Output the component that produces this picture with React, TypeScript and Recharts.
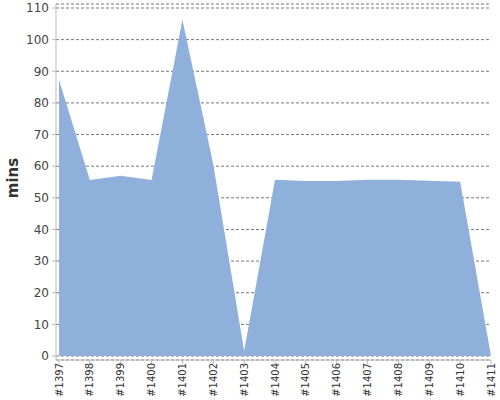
import React from "react";
import { AreaChart, Area, XAxis, YAxis, CartesianGrid, Label } from "recharts";

const builds = ["#1397", "#1398", "#1399", "#1400", "#1401", "#1402", "#1403", "#1404", "#1405", "#1406", "#1407", "#1408", "#1409", "#1410", "#1411"];
const minutes = [87.3, 55.6, 57, 55.6, 106.3, 60.5, 1.6, 55.7, 55.3, 55.3, 55.7, 55.7, 55.4, 55.1, 0];
const yTicks = [0, 10, 20, 30, 40, 50, 60, 70, 80, 90, 100, 110];

const data = builds.map((b, i) => ({ build: b, mins: minutes[i] }));

const XTick = (props: any) => {
  const { x, payload } = props;
  return (
    <text
      x={0}
      y={0}
      transform={`translate(${x + 3.5},363) rotate(-90)`}
      textAnchor="end"
      fontSize={10}
      fontFamily="DejaVu Sans"
      fill="#333"
    >
      {payload.value}
    </text>
  );
};

const YLabel = (props: any) => {
  const { viewBox } = props;
  const cx = viewBox.x + 18;
  const cy = viewBox.y + viewBox.height / 2 - 4;
  return (
    <text
      x={cx}
      y={cy}
      transform={`rotate(-90 ${cx} ${cy})`}
      textAnchor="middle"
      fontSize={15}
      fontFamily="DejaVu Sans"
      fontWeight="bold"
      fill="#333"
    >
      mins
    </text>
  );
};

export default function App() {
  return (
    <div style={{ position: "absolute", left: 0, top: 0, width: 500, height: 400, background: "#fff" }}>
      <AreaChart width={500} height={400} data={data} margin={{ top: 4, right: 9, bottom: 0, left: 0 }}>
        <CartesianGrid vertical={false} stroke="#777" strokeDasharray="3 2" />
        <XAxis
          dataKey="build"
          height={40}
          interval={0}
          tick={<XTick />}
          tickSize={4}
          stroke="#bbb"
          padding={{ left: 3, right: 0 }}
        />
        <YAxis
          width={56}
          domain={[0, 110]}
          ticks={yTicks}
          interval={0}
          tickSize={4}
          tickMargin={3}
          stroke="#bbb"
          tick={{ fill: "#444", fontSize: 12, fontFamily: "DejaVu Sans" }}
          padding={{ top: 4, bottom: 4 }}
        >
          <Label content={<YLabel />} />
        </YAxis>
        <Area
          type="linear"
          dataKey="mins"
          stroke="none"
          fill="#8eb0da"
          fillOpacity={1}
          isAnimationActive={false}
        />
      </AreaChart>
    </div>
  );
}
